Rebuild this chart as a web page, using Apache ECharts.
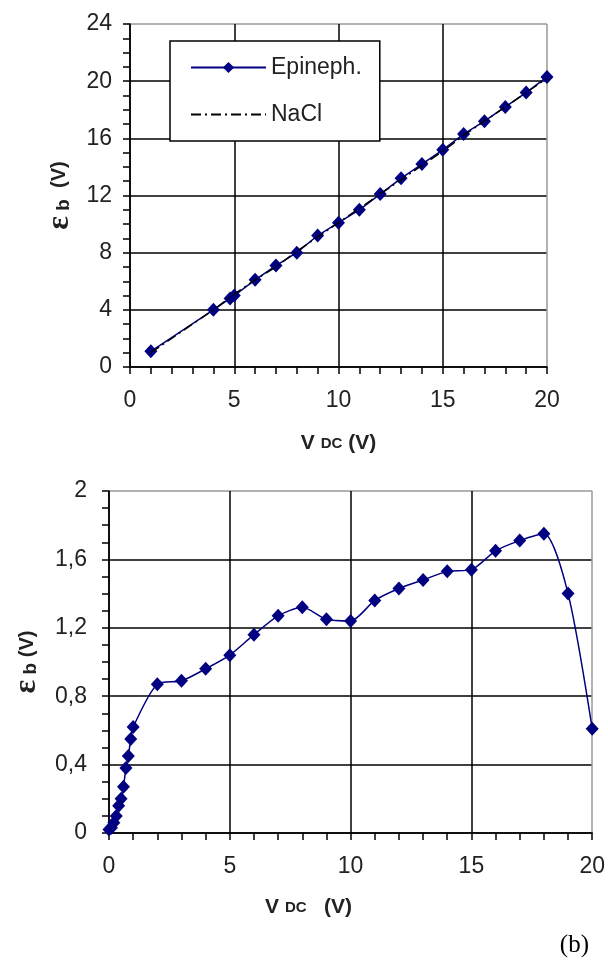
<!DOCTYPE html>
<html>
<head>
<meta charset="utf-8">
<script src="https://cdn.jsdelivr.net/npm/echarts@6/dist/echarts.min.js"></script>
<style>
html,body{margin:0;padding:0;background:#fff;}
#c{width:608px;height:960px;}
</style>
</head>
<body>
<div id="c"></div>
<script>
// ---- Data: top panel ----
const topEpiX = [1, 4, 4.8, 5, 6, 7, 8, 9, 10, 11, 12, 13, 14, 15, 16, 17, 18, 19, 20];
const topEpiY = [1.1, 4.0, 4.8, 5.0, 6.1, 7.1, 8.0, 9.2, 10.1, 11.0, 12.1, 13.2, 14.2, 15.2, 16.3, 17.2, 18.2, 19.2, 20.3];
const topNaclX = [1, 4, 5, 6, 7, 8, 9, 10, 11, 12, 13, 14, 15, 16, 17, 18, 19, 20];
const topNaclY = [1.0, 4.0, 5.1, 6.1, 7.0, 8.1, 9.1, 10.1, 11.1, 12.1, 13.1, 14.1, 15.1, 16.2, 17.2, 18.2, 19.2, 20.2];
// ---- Data: bottom panel ----
const botX = [0, 0.1, 0.2, 0.3, 0.4, 0.5, 0.6, 0.7, 0.8, 0.9, 1.0, 2, 3, 4, 5, 6, 7, 8, 9, 10, 11, 12, 13, 14, 15, 16, 17, 18, 19, 20];
const botY = [0.02, 0.03, 0.06, 0.10, 0.16, 0.20, 0.27, 0.38, 0.45, 0.55, 0.62, 0.87, 0.89, 0.96, 1.04, 1.16, 1.27, 1.32, 1.25, 1.24, 1.36, 1.43, 1.48, 1.53, 1.54, 1.65, 1.71, 1.75, 1.40, 0.61];
// ---- Axis ticks ----
const topXTicks = [0, 5, 10, 15, 20];
const topYTicks = [0, 4, 8, 12, 16, 20, 24];
const botXTicks = [0, 5, 10, 15, 20];
const botYTicks = ['0', '0,4', '0,8', '1,2', '1,6', '2'];

const zip = (xs, ys) => xs.map((x, i) => [x, ys[i]]);
const NAVY = '#000080';
const FONT = 'Liberation Sans, Arial, sans-serif';

const labelStyle = { color: '#222', fontSize: 23, fontFamily: FONT };
const nameRich = {
  v: { fontSize: 21, fontWeight: 'bold', fontFamily: FONT, color: '#222' },
  dc: { fontSize: 15, fontWeight: 'bold', fontFamily: FONT, color: '#222' },
};
const epsRich = {
  e: { fontSize: 32, fontWeight: 'bold', fontFamily: 'Liberation Serif, serif', color: '#222' },
  b: { fontSize: 19, fontWeight: 'bold', fontFamily: FONT, color: '#222', padding: [8, 0, 0, 0] },
  v: { fontSize: 20, fontWeight: 'bold', fontFamily: FONT, color: '#222' },
};

function xAxisCfg(gi, ticks, nameGap, namePad) {
  return {
    type: 'value', gridIndex: gi, min: ticks[0], max: ticks[ticks.length - 1], interval: ticks[1] - ticks[0],
    axisLine: { show: true, onZero: false, lineStyle: { color: '#000', width: 1.5 } },
    axisTick: { show: true, length: 7, lineStyle: { color: '#000', width: 1.5 } },
    minorTick: { show: true, splitNumber: 5, length: 7, lineStyle: { color: '#000', width: 1.5 } },
    axisLabel: Object.assign({ margin: 22 }, labelStyle),
    splitLine: { show: true, lineStyle: { color: ['#000', '#000', '#000', '#000', '#999'], width: 1.5 } },
    name: '{v|V }{dc|DC}{v|' + (gi === 1 ? '   (V)' : ' (V)') + '}',
    nameLocation: 'middle', nameGap: nameGap,
    nameTextStyle: { rich: nameRich, padding: namePad },
  };
}

const option = {
  backgroundColor: '#fff',
  animation: false,
  title: {
    text: '(b)', right: 14, top: 928,
    textStyle: { fontFamily: 'Liberation Serif, serif', fontSize: 25, fontWeight: 'normal', color: '#000' },
  },
  legend: {
    orient: 'vertical', left: 170, top: 41,
    padding: [15, 18, 15, 20], itemGap: 24, itemWidth: 75, itemHeight: 14,
    borderColor: '#000', borderWidth: 1.5, backgroundColor: '#fff',
    textStyle: { fontSize: 23, fontFamily: FONT, color: '#222' },
    data: ['Epineph.', { name: 'NaCl', itemStyle: { opacity: 0 } }],
  },
  grid: [
    { left: 130, top: 24, width: 417, height: 343 },
    { left: 109, top: 491, width: 485, height: 342 },
  ],
  xAxis: [
    xAxisCfg(0, topXTicks, 66, [0, 0, 0, 0]),
    xAxisCfg(1, botXTicks, 64, [0, 84, 0, 0]),
  ],
  yAxis: [
    {
      type: 'value', gridIndex: 0, min: topYTicks[0], max: topYTicks[topYTicks.length - 1], interval: topYTicks[1] - topYTicks[0],
      axisLine: { show: true, onZero: false, lineStyle: { color: '#000', width: 1.5 } },
      axisTick: { show: true, length: 7, lineStyle: { color: '#000', width: 1.5 } },
      minorTick: { show: true, splitNumber: 4, length: 7, lineStyle: { color: '#000', width: 1.5 } },
      axisLabel: Object.assign({ margin: 18 }, labelStyle),
      splitLine: { show: true, lineStyle: { color: ['#000', '#000', '#000', '#000', '#000', '#000', '#999'], width: 1.5 } },
      name: '{e|ε}{b| b}{v|  (V)}', nameLocation: 'middle', nameRotate: 90, nameGap: 52,
      nameTextStyle: { rich: epsRich },
    },
    {
      type: 'value', gridIndex: 1, min: 0, max: 2, interval: 0.4,
      axisLine: { show: true, onZero: false, lineStyle: { color: '#000', width: 1.5 } },
      axisTick: { show: true, length: 7, lineStyle: { color: '#000', width: 1.5 } },
      minorTick: { show: true, splitNumber: 4, length: 7, lineStyle: { color: '#000', width: 1.5 } },
      axisLabel: Object.assign({ margin: 22, formatter: (v) => botYTicks[Math.round(v / 0.4)] }, labelStyle),
      splitLine: { show: true, lineStyle: { color: ['#000', '#000', '#000', '#000', '#000', '#999'], width: 1.5 } },
      name: '{e|ε}{b| b}{v| (V)}', nameLocation: 'middle', nameRotate: 90, nameGap: 66,
      nameTextStyle: { rich: epsRich, padding: [0, 0, 0, 0] },
    },
  ],
  series: [
    {
      name: 'Epineph.', type: 'line', xAxisIndex: 0, yAxisIndex: 0,
      data: zip(topEpiX, topEpiY),
      symbol: 'diamond', symbolSize: [13, 14],
      lineStyle: { color: NAVY, width: 1.5 }, itemStyle: { color: NAVY },
      z: 3,
    },
    {
      name: 'NaCl', type: 'line', xAxisIndex: 0, yAxisIndex: 0,
      data: zip(topNaclX, topNaclY),
      symbol: 'none', symbolSize: 0,
      lineStyle: { color: '#000', width: 1.5, type: [10, 4, 2, 4] }, itemStyle: { color: '#000' },
      z: 4,
    },
    {
      name: 'Epineph. (b)', type: 'line', xAxisIndex: 1, yAxisIndex: 1,
      data: zip(botX, botY),
      smooth: 0.25,
      symbol: 'diamond', symbolSize: [13, 14],
      lineStyle: { color: NAVY, width: 1.5 }, itemStyle: { color: NAVY },
    },
  ],
};

const chart = echarts.init(document.getElementById('c'), null, { renderer: 'canvas' });
chart.setOption(option);
</script>
</body>
</html>
